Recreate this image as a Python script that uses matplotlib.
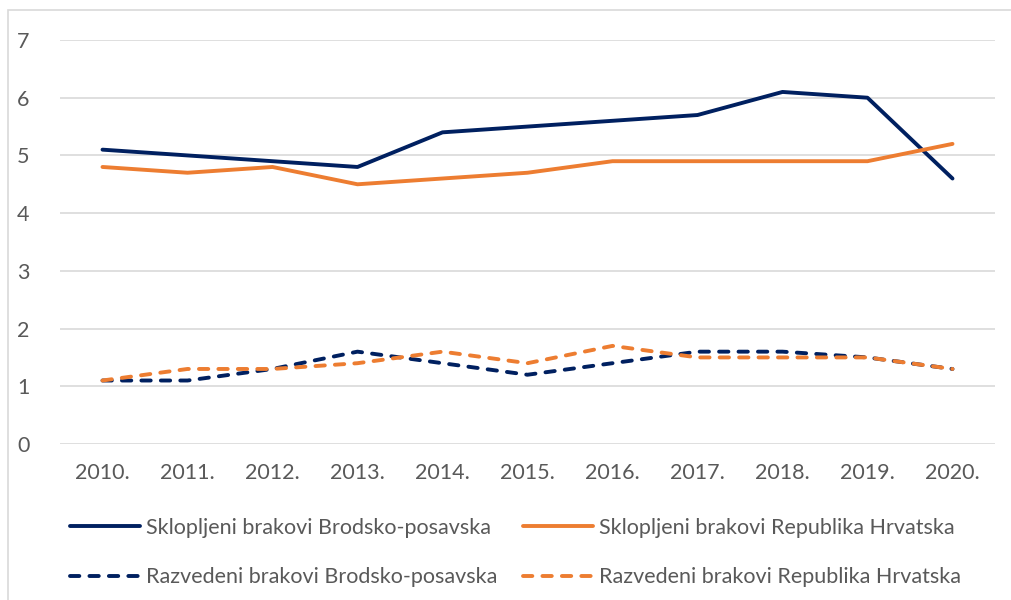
import matplotlib
matplotlib.use("Agg")
import matplotlib.pyplot as plt
from matplotlib.patches import Rectangle

years = ["2010.", "2011.", "2012.", "2013.", "2014.", "2015.", "2016.", "2017.", "2018.", "2019.", "2020."]
skl_bp = [5.1, 5.0, 4.9, 4.8, 5.4, 5.5, 5.6, 5.7, 6.1, 6.0, 4.6]
skl_rh = [4.8, 4.7, 4.8, 4.5, 4.6, 4.7, 4.9, 4.9, 4.9, 4.9, 5.2]
raz_bp = [1.1, 1.1, 1.3, 1.6, 1.4, 1.2, 1.4, 1.6, 1.6, 1.5, 1.3]
raz_rh = [1.1, 1.3, 1.3, 1.4, 1.6, 1.4, 1.7, 1.5, 1.5, 1.5, 1.3]
labels = ["Sklopljeni brakovi Brodsko-posavska", "Sklopljeni brakovi Republika Hrvatska",
          "Razvedeni brakovi Brodsko-posavska", "Razvedeni brakovi Republika Hrvatska"]

plt.rcParams['font.family'] = ['Lato', 'DejaVu Sans']
navy = "#002060"
orange = "#ED7D31"
txt = "#595959"
fs = 15.5

fig = plt.figure(figsize=(10.12, 6.0), dpi=100)
fig.patches.append(Rectangle((8/1012, -0.05), 1.0, 1 - 10/600 + 0.05,
                             transform=fig.transFigure, fill=False, edgecolor="#D9D9D9", lw=1.2))
ax = fig.add_axes([60/1012, 1 - 444/600, (995-60)/1012, (444-40)/600])
x = list(range(len(years)))
lw = 2.8
l1, = ax.plot(x, skl_bp, color=navy, lw=lw, solid_capstyle='round', label=labels[0])
l2, = ax.plot(x, skl_rh, color=orange, lw=lw, solid_capstyle='round', label=labels[1])
l3, = ax.plot(x, raz_bp, color=navy, lw=lw, dashes=(2.4, 2.6), dash_capstyle='round', label=labels[2])
l4, = ax.plot(x, raz_rh, color=orange, lw=lw, dashes=(2.4, 2.6), dash_capstyle='round', label=labels[3])

ax.set_xlim(-0.5, len(years) - 0.5)
ax.set_ylim(0, 7)
ax.set_yticks(range(0, 8))
ax.set_xticks(x)
ax.set_xticklabels(years)
ax.grid(axis='y', color="#D9D9D9", lw=1.2)
ax.set_axisbelow(True)
for s in ax.spines.values():
    s.set_visible(False)
ax.tick_params(length=0, labelsize=fs, labelcolor=txt)
ax.tick_params(axis='y', pad=22)
ax.tick_params(axis='x', pad=14)

fig.legend(handles=[l1, l3, l2, l4], labels=[labels[0], labels[2], labels[1], labels[3]],
           ncol=2, loc='upper left',
           bbox_to_anchor=(70/1012, 1 - 518/600), frameon=False, fontsize=fs,
           labelcolor=txt, handlelength=3.25, handletextpad=0.27, columnspacing=1.2,
           labelspacing=1.35, borderpad=0, borderaxespad=0)

fig.savefig("out.png", dpi=100)
